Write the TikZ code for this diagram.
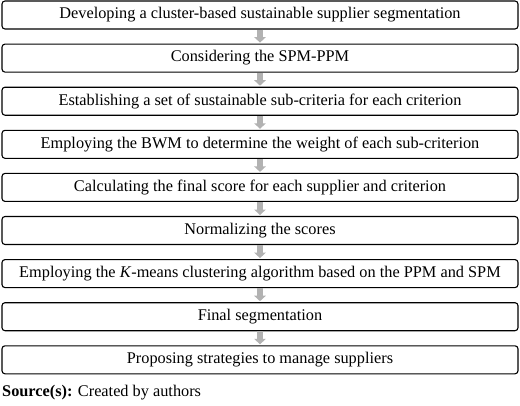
\documentclass[tikz,border=0pt]{standalone}
\usepackage{fontspec}
\setmainfont{Liberation Serif}
\usetikzlibrary{positioning,arrows.meta}

\begin{document}
\begin{tikzpicture}[x=1pt, y=-1pt, node distance=15.1pt,
    step box/.style = {draw, rounded corners=3pt, line width=1.1pt, outer sep=0pt,
        minimum width=516pt, minimum height=28pt, inner sep=0pt,
        font=\fontsize{16.3}{18}\selectfont},
    flow/.style = {draw=black!30, line width=6.5pt, -{Triangle[width=11.5pt,length=5.5pt]},
        shorten <=0.5pt, shorten >=1.5pt}]
            \useasboundingbox (0,0) rectangle (520,405);
            \node[step box] (s1) at (260,15) {Developing a cluster-based sustainable supplier segmentation};
            \node[step box] (s2) [below=of s1] {Considering the SPM-PPM};
            \node[step box] (s3) [below=of s2] {Establishing a set of sustainable sub-criteria for each criterion};
            \node[step box] (s4) [below=of s3] {Employing the BWM to determine the weight of each sub-criterion};
            \node[step box] (s5) [below=of s4] {Calculating the final score for each supplier and criterion};
            \node[step box] (s6) [below=of s5] {Normalizing the scores};
            \node[step box] (s7) [below=of s6] {Employing the \textit{K}-means clustering algorithm based on the PPM and SPM};
            \node[step box] (s8) [below=of s7] {Final segmentation};
            \node[step box] (s9) [below=of s8] {Proposing strategies to manage suppliers};
            \node[anchor=base west, inner sep=0pt, font=\fontsize{16.3}{18}\selectfont] (src) at (2,396)
                {\textbf{Source(s):} Created by authors};
            \foreach \a/\b in {s1/s2, s2/s3, s3/s4, s4/s5, s5/s6, s6/s7, s7/s8, s8/s9}
                \path[flow] (\a) -- (\b);
        \end{tikzpicture}
\end{document}
